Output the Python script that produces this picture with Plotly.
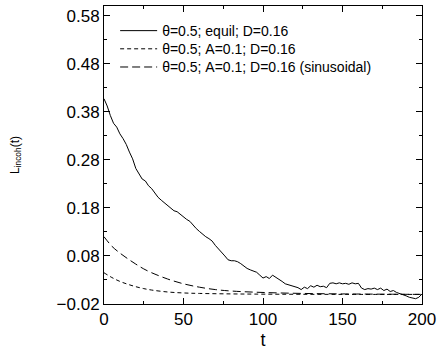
import plotly.graph_objects as go

# solid: theta=0.5; equil; D=0.16
t_equil = list(range(0, 201, 2))
v_equil = [0.407, 0.392, 0.372, 0.356, 0.348, 0.334, 0.324, 0.312, 0.296, 0.282,
           0.262, 0.252, 0.240, 0.236, 0.226, 0.220, 0.210, 0.202, 0.196, 0.190,
           0.186, 0.180, 0.174, 0.172, 0.166, 0.162, 0.156, 0.152, 0.144, 0.137,
           0.131, 0.125, 0.120, 0.116, 0.111, 0.102, 0.095, 0.089, 0.080, 0.072,
           0.070, 0.070, 0.068, 0.064, 0.059, 0.054, 0.051, 0.049, 0.046, 0.040,
           0.034, 0.037, 0.033, 0.040, 0.036, 0.031, 0.027, 0.022, 0.020, 0.018,
           0.016, 0.014, 0.010, 0.015, 0.012, 0.018, 0.015, 0.019, 0.016, 0.017,
           0.014, 0.023, 0.024, 0.022, 0.024, 0.022, 0.023, 0.021, 0.024, 0.022,
           0.023, 0.013, 0.010, 0.012, 0.011, 0.013, 0.010, 0.013, 0.008, 0.011,
           0.006, 0.008, 0.004, 0.002, -0.001, -0.003, -0.006, -0.008, -0.009, -0.006,
           0.001]

# short dash: theta=0.5; A=0.1; D=0.16
t_a = [0, 5, 10, 15, 20, 25, 30, 40, 50, 60, 80, 100, 150, 200]
v_a = [0.045, 0.035, 0.027, 0.021, 0.016, 0.012, 0.009, 0.005, 0.003, 0.002,
       0.001, 0.0005, 0.0, 0.0]

# long dash: theta=0.5; A=0.1; D=0.16 (sinusoidal)
t_s = [0, 5, 10, 15, 20, 25, 30, 40, 50, 60, 70, 80, 100, 125, 150, 200]
v_s = [0.120, 0.100, 0.086, 0.074, 0.063, 0.053, 0.045, 0.032, 0.022, 0.015,
       0.010, 0.007, 0.004, 0.002, 0.001, 0.0]

y_ticks = [-0.02, 0.08, 0.18, 0.28, 0.38, 0.48, 0.58]
x_ticks = [0, 50, 100, 150, 200]

fig = go.Figure()
fig.add_trace(go.Scatter(x=t_equil, y=v_equil, mode="lines",
                         line=dict(color="black", width=1),
                         name="θ=0.5; equil; D=0.16", legend="legend"))
fig.add_trace(go.Scatter(x=t_a, y=v_a, mode="lines", line_shape="spline",
                         line=dict(color="black", width=1, dash="4px,3px"),
                         name="θ=0.5; A=0.1; D=0.16", legend="legend2"))
fig.add_trace(go.Scatter(x=t_s, y=v_s, mode="lines", line_shape="spline",
                         line=dict(color="black", width=1, dash="8px,4px"),
                         name="θ=0.5; A=0.1; D=0.16 (sinusoidal)", legend="legend3"))

axis_common = dict(showgrid=False, zeroline=False, showline=True, linecolor="black",
                   linewidth=1, mirror="allticks", ticks="inside", ticklen=6,
                   tickcolor="black", tickwidth=1, ticklabeloverflow="allow",
                   tickfont=dict(family="Liberation Sans, Arial", size=17, color="black"))

def leg(y):
    return dict(x=0.035, y=y, xanchor="left", yanchor="middle",
                bgcolor="rgba(0,0,0,0)", font=dict(size=14), itemwidth=37)

fig.update_layout(
    width=441, height=358,
    margin=dict(l=104, r=13, t=5, b=54),
    paper_bgcolor="white", plot_bgcolor="white",
    font=dict(family="Liberation Sans, Arial", color="black"),
    showlegend=True,
    legend=leg(0.916), legend2=leg(0.855), legend3=leg(0.794),
    xaxis=dict(range=[0, 200], tickvals=x_ticks,
               minor=dict(dtick=25, tick0=0, ticks="inside", ticklen=3, tickcolor="black"),
               title=dict(text="t", font=dict(size=18), standoff=4),
               **axis_common),
    yaxis=dict(range=[-0.02, 0.60], tickvals=y_ticks,
               ticktext=[("\u22120.02" if v < 0 else f"{v:.2f}") for v in y_ticks],
               minor=dict(dtick=0.05, tick0=-0.02, ticks="inside", ticklen=3, tickcolor="black"),
               title=dict(text="L<sub>incoh</sub>(t)", font=dict(size=12), standoff=34),
               **axis_common),
)

fig.write_html("out.html")
